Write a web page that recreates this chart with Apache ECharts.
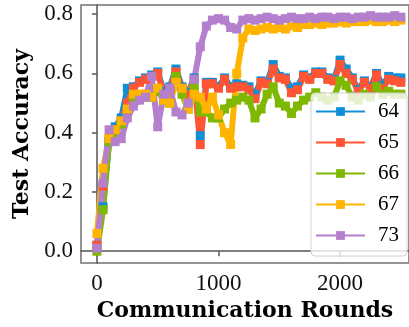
<!DOCTYPE html>
<html>
<head>
<meta charset="utf-8">
<script src="https://cdn.jsdelivr.net/npm/echarts@6.0.0/dist/echarts.min.js"></script>
<style>
    html, body { margin: 0; padding: 0; background: #fff; }
    #chart { width: 409px; height: 327px; }
</style>
</head>
<body>
<div id="chart"></div>
<script>
// communication rounds
var rounds = [0, 50, 100, 150, 200, 250, 300, 350, 400, 450,
    500, 550, 600, 650, 700, 750, 800, 850, 900, 950,
    1000, 1050, 1100, 1150, 1200, 1250, 1300, 1350, 1400, 1450,
    1500, 1550, 1600, 1650, 1700, 1750, 1800, 1850, 1900, 1950,
    2000, 2050, 2100, 2150, 2200, 2250, 2300, 2350, 2400, 2450, 2500];

var acc64 = [0.02, 0.15, 0.37, 0.42, 0.45, 0.55, 0.555, 0.575, 0.585, 0.595,
    0.605, 0.54, 0.555, 0.615, 0.555, 0.535, 0.585, 0.39, 0.57, 0.57,
    0.555, 0.585, 0.555, 0.565, 0.56, 0.555, 0.53, 0.575, 0.57, 0.63,
    0.59, 0.585, 0.55, 0.555, 0.595, 0.585, 0.605, 0.605, 0.585, 0.58,
    0.645, 0.615, 0.585, 0.545, 0.575, 0.555, 0.6, 0.56, 0.59, 0.585, 0.585];

var acc65 = [0.02, 0.22, 0.38, 0.41, 0.44, 0.50, 0.55, 0.57, 0.58, 0.59,
    0.60, 0.53, 0.55, 0.605, 0.55, 0.53, 0.58, 0.36, 0.565, 0.565,
    0.55, 0.58, 0.55, 0.555, 0.555, 0.545, 0.515, 0.57, 0.565, 0.615,
    0.585, 0.58, 0.535, 0.545, 0.59, 0.58, 0.60, 0.60, 0.58, 0.575,
    0.63, 0.60, 0.58, 0.54, 0.57, 0.55, 0.595, 0.55, 0.58, 0.575, 0.57];

var acc66 = [0.00, 0.14, 0.37, 0.40, 0.43, 0.47, 0.52, 0.52, 0.52, 0.52,
    0.54, 0.51, 0.50, 0.59, 0.53, 0.48, 0.55, 0.47, 0.47, 0.45,
    0.45, 0.48, 0.50, 0.51, 0.52, 0.51, 0.45, 0.48, 0.53, 0.555,
    0.50, 0.49, 0.465, 0.49, 0.51, 0.52, 0.535, 0.52, 0.51, 0.52,
    0.575, 0.56, 0.52, 0.51, 0.53, 0.52, 0.555, 0.53, 0.54, 0.53, 0.53];

var acc67 = [0.06, 0.28, 0.38, 0.41, 0.44, 0.48, 0.53, 0.53, 0.53, 0.52,
    0.55, 0.51, 0.50, 0.57, 0.55, 0.48, 0.53, 0.52, 0.48, 0.52,
    0.46, 0.40, 0.36, 0.60, 0.72, 0.75, 0.745, 0.75, 0.755, 0.75,
    0.755, 0.75, 0.76, 0.755, 0.765, 0.765, 0.77, 0.765, 0.77, 0.77,
    0.775, 0.77, 0.775, 0.775, 0.775, 0.78, 0.775, 0.775, 0.78, 0.775, 0.78];

var acc73 = [0.01, 0.23, 0.41, 0.37, 0.38, 0.45, 0.49, 0.51, 0.52, 0.59,
    0.42, 0.53, 0.55, 0.47, 0.46, 0.50, 0.58, 0.69, 0.76, 0.78,
    0.785, 0.78, 0.755, 0.75, 0.78, 0.785, 0.78, 0.785, 0.79, 0.785,
    0.78, 0.785, 0.79, 0.785, 0.785, 0.79, 0.785, 0.79, 0.79, 0.785,
    0.79, 0.79, 0.785, 0.79, 0.79, 0.795, 0.79, 0.79, 0.79, 0.795, 0.79];

var names = ["64", "65", "66", "67", "73"];
var colors = ["#118fd6", "#ff5534", "#7fb800", "#ffb400", "#b47fcc"];
var xTicks = [0, 1000, 2000];
var yTicks = [0, 0.2, 0.4, 0.6, 0.8];

function pairs(values) {
    var out = [];
    for (var i = 0; i < rounds.length; i++) {
        out.push([rounds[i], values[i]]);
    }
    return out;
}

var allData = [acc64, acc65, acc66, acc67, acc73];
var series = [];
for (var k = 0; k < names.length; k++) {
    series.push({
        name: names[k],
        type: "line",
        data: pairs(allData[k]),
        symbol: "rect",
        symbolSize: 9,
        showAllSymbol: true,
        lineStyle: {width: 6, color: colors[k], join: "round", cap: "square"},
        itemStyle: {color: colors[k], borderWidth: 0},
        emphasis: {disabled: true}
    });
}

var titleFont = {fontFamily: "DejaVu Serif", fontSize: 22, fontWeight: "bold", color: "#000"};

var option = {
    animation: false,
    color: colors,
    grid: {
        left: 81, top: 5, width: 330, height: 261,
        show: true, borderColor: "#707070", borderWidth: 1.5
    },
    legend: {
        orient: "vertical",
        left: 311, top: 93,
        itemWidth: 47, itemHeight: 11, itemGap: 10,
        padding: [8, 8, 10, 5],
        backgroundColor: "rgba(255,255,255,0.8)",
        borderColor: "#d0d0d0", borderWidth: 1, borderRadius: 4,
        textStyle: {fontFamily: "Liberation Serif", fontSize: 21, lineHeight: 21, color: "#000", padding: [0, 0, 0, 9]},
        data: names
    },
    xAxis: {
        type: "value",
        min: -131, max: 2567,
        name: "Communication Rounds",
        nameLocation: "middle",
        nameGap: 34,
        nameTextStyle: titleFont,
        axisLine: {show: true, lineStyle: {color: "#555", width: 1.5}},
        axisTick: {show: true, customValues: xTicks, length: 5, lineStyle: {color: "#555", width: 1.5}},
        axisLabel: {
            customValues: xTicks, margin: 9,
            fontFamily: "Liberation Serif", fontSize: 23, color: "#111",
            formatter: function (v) { return String(v); }
        },
        splitLine: {show: false}
    },
    yAxis: {
        type: "value",
        min: -0.04, max: 0.831,
        name: "Test Accuracy",
        nameLocation: "middle",
        nameRotate: 90,
        nameGap: 43,
        nameTextStyle: titleFont,
        axisLine: {show: true, lineStyle: {color: "#555", width: 1.5}},
        axisTick: {show: true, customValues: yTicks, length: 5, lineStyle: {color: "#555", width: 1.5}},
        axisLabel: {
            customValues: yTicks, margin: 8,
            fontFamily: "Liberation Serif", fontSize: 23, color: "#111",
            formatter: function (v) { return v.toFixed(1); }
        },
        splitLine: {show: false}
    },
    series: series
};

var chart = echarts.init(document.getElementById("chart"), null, {renderer: "canvas"});
chart.setOption(option);
</script>
</body>
</html>
